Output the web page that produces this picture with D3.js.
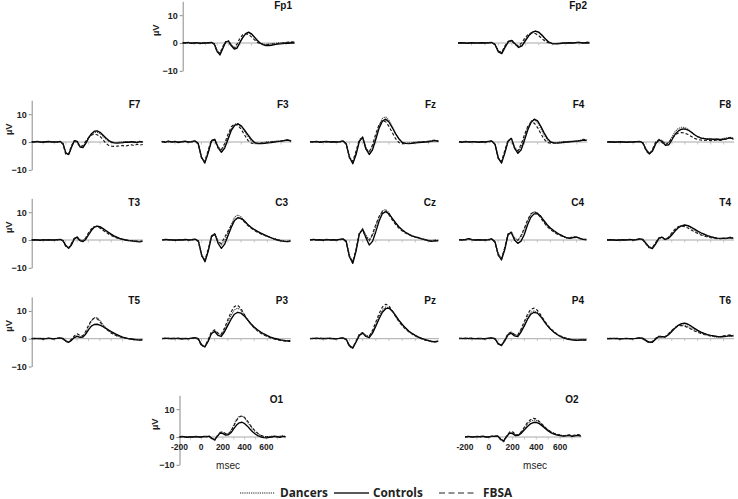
<!DOCTYPE html>
<html><head><meta charset="utf-8">
<script src="https://cdn.jsdelivr.net/npm/d3@7"></script>
<style>body{margin:0;background:#fff}svg{display:block}</style>
</head><body><svg id="c" width="738" height="499"></svg>
<script>
// time points (ms)
const times = [-200,-175,-150,-125,-100,-75,-50,-25,0,25,50,75,100,125,150,175,200,225,250,275,300,325,350,375,400,425,450,475,500,525,550,575,600,625,650,675,700,725,750,775];
const seriesNames = ["Dancers","Controls","FBSA"];
const electrodes = ["Fp1","Fp2","F7","F3","Fz","F4","F8","T3","C3","Cz","C4","T4","T5","P3","Pz","P4","T6","O1","O2"];
const yTickValues = [-10, 0, 10];
const xTickLabels = [-200, 0, 200, 400, 600];
const yLabel = "µV";
const xLabel = "msec";

// Fp1
const dancersFp1  = [0,0.1,0,0.1,-0.1,0,0.1,-0.1,0, 0,0.1,-0.2,-2.6,-3.8,-1.8,0.3,0.8,-0.6,-1.8,-1.2,0.6,2.2,3.3,3.6,3.1,2.0,0.9,0,-0.3,-0.5,-0.4,-0.3,-0.2,0,0.1,0,-0.2,0.2,0.3,0.1];
const controlsFp1 = [0.1,0,0.2,-0.1,0,0.1,-0.2,0,0, 0.1,0.2,-0.3,-3.0,-4.3,-2.0,0.4,0.7,-1.0,-2.2,-1.8,0.2,2.0,3.4,3.9,3.3,2.2,1.0,0,-0.6,-0.9,-0.9,-0.8,-0.6,-0.4,-0.3,-0.2,0,-0.1,0.1,0];
const fbsaFp1     = [0,0,0.1,0,0.1,0,0,0.1,0, 0,0.1,-0.4,-3.2,-3.6,-1.2,0.5,0.4,-1.2,-1.6,-0.3,1.8,3.0,3.3,3.0,2.2,1.2,0.3,-0.3,-0.5,-0.6,-0.5,-0.4,-0.3,-0.2,-0.1,0.1,0.2,0.3,0.4,0.3];
// Fp2
const dancersFp2  = [0.1,0,0.1,0,0,0.1,0,0,0, 0,0.1,-0.3,-2.8,-3.4,-1.2,0.6,0.9,-0.2,-1.2,-0.6,1.2,2.9,3.9,4.2,3.7,2.5,1.2,0.2,-0.2,-0.2,-0.1,0,0.1,0,0.1,0.2,0.1,0,0.2,0.1];
const controlsFp2 = [0,0.1,0,-0.1,0.1,0,0,0.1,0, 0.1,0.2,-0.6,-3.2,-3.8,-1.5,0.5,0.9,-0.4,-1.6,-1.0,0.8,2.6,3.8,4.3,3.9,2.8,1.4,0.3,-0.2,-0.3,-0.2,-0.1,0,0.1,0,0.1,0.2,0,0.1,0];
const fbsaFp2     = [0,0,0,0.1,0,0,0.1,0,0, 0.1,0.1,-0.5,-3.0,-3.3,-0.9,0.7,0.6,-0.6,-1.0,0.2,2.0,3.3,3.6,3.4,2.6,1.5,0.5,0,-0.2,-0.3,-0.2,-0.1,0,0.1,0.1,0.2,0.2,0.1,0.3,0.2];
// F7
const dancersF7  = [0,0.1,0,0.2,0,-0.1,0.1,0,0, 0.1,0.1,-0.4,-3.8,-4.6,-1.9,0.3,0.3,-1.5,-1.6,-0.2,1.6,2.8,3.4,3.5,3.0,2.1,1.1,0.3,-0.2,-0.3,-0.2,0,0.1,-0.1,0,0.2,-0.1,0.1,0.3,0];
const controlsF7 = [0.1,0,0.2,0,-0.1,0.1,0.2,0,0, 0,0.2,-0.6,-4.0,-4.5,-1.8,0.5,0.2,-1.8,-2.0,-0.5,1.5,3.0,3.9,4.0,3.5,2.5,1.5,0.6,0,-0.3,-0.4,-0.3,-0.2,0,-0.1,0.1,0,-0.2,0.1,0];
const fbsaF7     = [0,0,0.1,0,0.1,0,0,0.1,0, 0,0.1,-0.8,-4.6,-4.2,-1.2,0.4,-0.3,-1.8,-1.3,0.3,1.6,2.5,2.8,2.6,2.0,0.9,-0.4,-1.2,-1.5,-1.6,-1.5,-1.4,-1.3,-1.5,-1.2,-1.0,-1.3,-0.8,-1.1,-0.9];
// F3
const dancersF3  = [0.1,0.2,0,0.1,-0.1,0.2,0,0.1,0, 0.2,0.3,-0.4,-5.2,-7.2,-3.6,0.5,0.9,-1.6,-3.0,-1.4,1.8,4.8,6.3,6.6,5.5,3.8,2.0,0.5,-0.3,-0.4,-0.3,-0.1,0.1,0,0.2,0.4,0.2,0.6,0.9,0.5];
const controlsF3 = [0.2,-0.1,0.3,0,0.2,-0.2,0.1,0.3,0, 0.1,0.4,-0.5,-5.5,-7.6,-4.0,0.3,1.0,-2.0,-3.7,-2.2,1.0,4.2,6.0,6.5,5.8,4.3,2.6,1.0,-0.2,-0.6,-0.6,-0.5,-0.3,-0.2,0,0.2,0.3,0.5,0.7,0.3];
const fbsaF3     = [0,0.1,0.2,0,0.1,0,0.2,0,0, 0,0.3,-0.7,-5.8,-7.0,-3.0,0.8,0.6,-2.2,-2.8,-0.5,2.8,5.5,6.5,6.0,4.5,2.5,0.6,-0.4,-0.6,-0.5,-0.4,-0.3,-0.1,0.1,0.3,0.1,0.4,0.6,0.8,0.4];
// Fz
const dancersFz  = [0,0.2,0.1,0,0.1,0,0.2,0,0, 0.1,0.3,-0.5,-5.2,-7.3,-4.0,0.6,1.9,-2.0,-3.8,-1.8,2.0,6.0,8.5,9.0,7.8,5.5,3.0,1.0,-0.2,-0.4,-0.4,-0.2,0,0,0.1,0.2,0.1,0.4,0.6,0.3];
const controlsFz = [0.1,0,0.2,-0.1,0.1,0.2,0,0.1,0, 0.1,0.4,-0.6,-5.5,-7.8,-4.5,0.2,1.7,-2.5,-4.5,-2.8,1.0,5.0,7.5,8.2,7.2,5.2,3.0,1.2,-0.1,-0.5,-0.6,-0.5,-0.3,-0.2,-0.1,0,0.1,0.3,0.5,0.2];
const fbsaFz     = [0.1,0,0,0.2,0,0.1,0,0.1,0, 0,0.3,-0.8,-5.8,-7.0,-3.2,0.9,1.5,-2.6,-3.6,-1.0,3.0,6.3,7.6,7.3,5.6,3.4,1.2,-0.2,-0.6,-0.6,-0.5,-0.4,-0.2,0,0.1,0.2,0.3,0.5,0.7,0.4];
// F4
const dancersF4  = [0,0.1,0,0.1,0,0.2,0,0,0, 0.1,0.3,-0.6,-5.4,-7.2,-3.6,0.5,1.4,-1.8,-3.5,-1.8,1.6,5.2,7.6,8.0,7.0,4.8,2.5,0.8,-0.1,-0.2,-0.2,0,0.1,0.1,0.2,0.3,0.4,0.6,0.9,0.8];
const controlsF4 = [0.1,-0.1,0.2,0,0.1,0.1,-0.1,0.1,0, 0.2,0.4,-0.8,-5.8,-7.6,-4.0,0.3,1.3,-2.2,-4.1,-2.8,0.6,4.3,7.0,8.2,7.6,5.6,3.3,1.3,0,-0.3,-0.4,-0.3,-0.1,0,0.1,0.2,0.3,0.4,0.7,0.6];
const fbsaF4     = [0.1,0,0.1,0,0.2,0,0.1,0,0, 0,0.3,-0.9,-6.0,-7.0,-3.0,0.7,1.0,-2.4,-3.2,-0.8,2.6,5.6,7.0,6.8,5.2,3.0,1.0,-0.2,-0.4,-0.4,-0.3,-0.1,0,0.1,0.2,0.1,0.3,0.6,1.0,0.8];
// F8
const dancersF8  = [0.1,0,0.1,0,0,0.1,0,0,0, 0.2,0.2,-0.2,-2.6,-4.0,-2.8,-0.2,1.0,0.5,-0.5,-0.1,1.8,3.8,4.9,5.3,5.2,4.6,3.6,2.6,1.8,1.5,1.3,1.2,1.0,1.1,1.2,1.0,1.3,1.5,1.7,1.4];
const controlsF8 = [0,0.1,-0.1,0,0.1,0,-0.1,0,0, 0.1,0.2,-0.3,-2.8,-4.3,-3.2,-0.6,0.7,0.2,-1.2,-1.0,0.8,2.8,4.0,4.6,4.7,4.3,3.5,2.6,1.9,1.4,1.2,1.0,1.1,0.9,1.0,0.8,1.0,1.2,1.5,1.1];
const fbsaF8     = [0,0,0.1,0.1,0,0,0.1,0,0, 0,0.1,-0.5,-3.2,-4.4,-2.6,0.1,0.8,-0.3,-1.0,-0.2,1.4,2.6,3.2,3.4,3.2,2.7,2.0,1.3,0.9,0.7,0.6,0.7,0.5,0.6,0.8,0.6,0.9,1.0,1.6,0.9];
// T3
const dancersT3  = [0.1,0,0.1,0,0,0.1,0,0.1,0, 0,0.2,-0.1,-1.8,-2.8,-1.5,0.6,1.2,0.2,-0.2,0.6,2.2,3.7,4.7,5.0,4.6,3.9,3.2,2.5,1.8,1.2,0.8,0.4,0.2,0,-0.1,-0.2,-0.3,-0.4,-0.5,-0.3];
const controlsT3 = [0,0.1,0,-0.1,0.1,0,0.1,0,0, 0.1,0.2,-0.2,-2.0,-3.0,-1.8,0.4,1.0,-0.2,-0.6,0.2,1.8,3.4,4.6,5.0,4.8,4.2,3.5,2.8,2.1,1.5,1.0,0.6,0.3,0,-0.2,-0.3,-0.4,-0.6,-0.7,-0.5];
const fbsaT3     = [0,0,0.1,0.1,0,0,0.1,0,0, 0.1,0.1,-0.3,-2.3,-2.8,-1.2,0.6,0.8,-0.4,-0.4,0.8,2.6,4.0,4.8,4.8,4.3,3.6,2.9,2.2,1.6,1.1,0.7,0.4,0.2,0.1,-0.1,-0.2,-0.3,-0.4,-0.5,-0.4];
// C3
const dancersC3  = [0.1,0,0.2,0,0.1,0,0.1,0,0, 0.2,0.3,-0.3,-5.2,-7.4,-3.6,1.4,2.4,-0.5,-1.8,-0.2,2.6,5.6,8.2,9.0,8.3,7.0,5.7,4.6,3.7,3.0,2.4,1.8,1.3,0.9,0.5,0.2,-0.1,-0.3,-0.4,-0.2];
const controlsC3 = [0,0.2,0.1,0,-0.1,0.1,0,0.2,0, 0.1,0.3,-0.4,-5.5,-7.8,-4.0,1.2,2.2,-1.2,-3.0,-1.5,1.5,4.5,7.0,8.0,7.8,6.8,5.6,4.6,3.8,3.1,2.5,1.9,1.4,0.9,0.4,0,-0.3,-0.5,-0.6,-0.4];
const fbsaC3     = [0,0.1,0,0.1,0,0.2,0,0,0, 0,0.2,-0.6,-5.8,-7.2,-3.2,1.6,2.0,-0.8,-1.2,1.0,3.2,5.2,7.2,8.0,7.6,6.5,5.3,4.3,3.5,2.8,2.2,1.7,1.2,0.8,0.4,0.1,-0.2,-0.4,-0.6,-0.5];
// Cz
const dancersCz  = [0.1,0,0.2,0,0.1,0,0.2,0,0, 0.1,0.3,-0.3,-5.6,-8.0,-3.6,2.4,4.2,1.8,0,1.6,4.8,8.2,10.5,11.0,9.8,7.8,6.0,4.5,3.4,2.6,2.0,1.5,1.1,0.7,0.5,0.2,0,-0.2,0.1,-0.1];
const controlsCz = [0,0.2,0,0.1,-0.1,0.2,0,0.1,0, 0.2,0.4,-0.5,-6.0,-8.4,-4.0,2.2,3.8,0.8,-1.8,-0.5,3.0,6.8,9.5,10.2,9.4,7.8,6.2,4.8,3.7,2.8,2.1,1.5,1.1,0.8,0.4,0.1,-0.3,-0.5,-0.2,-0.3];
const fbsaCz     = [0,0.1,0,0.2,0,0.1,0,0.1,0, 0.1,0.3,-0.7,-6.2,-7.8,-3.2,2.6,3.6,1.0,-0.3,2.2,5.6,8.5,10.2,10.4,9.0,7.2,5.6,4.3,3.3,2.5,1.9,1.4,1.0,0.7,0.4,0.1,-0.2,-0.4,-0.3,-0.4];
// C4
const dancersC4  = [0.2,0,0.1,0.4,0,0.1,0,0.1,0, 0.2,0.3,-0.4,-4.8,-6.8,-3.0,2.0,3.0,0.8,0,1.2,3.6,6.8,9.2,10.2,9.8,8.4,6.6,5.0,3.9,3.0,2.3,1.7,1.2,0.8,0.7,1.0,1.1,0.7,0.3,0.2];
const controlsC4 = [0.1,0,0.2,0.5,0.1,0,0.1,0,0, 0.1,0.4,-0.6,-5.2,-7.2,-3.5,1.8,2.8,0,-1.2,-0.4,2.0,5.5,8.2,9.4,9.5,8.6,7.0,5.5,4.3,3.4,2.6,1.9,1.3,0.8,0.6,0.9,1.0,0.6,0.2,0.1];
const fbsaC4     = [0.1,0.1,0,0.3,0.1,0,0.1,0,0, 0,0.3,-0.8,-5.5,-6.8,-2.8,2.2,2.6,0.4,-0.2,1.6,4.2,7.2,9.4,10.2,9.6,8.0,6.3,4.8,3.8,2.9,2.2,1.6,1.1,0.8,0.8,1.2,1.0,0.5,0.3,0.2];
// T4
const dancersT4  = [0.1,0,0.1,0,0.1,0,0.1,0.1,0, 0.2,0.4,0.3,-1.0,-2.4,-2.8,-1.2,0.8,1.1,0.4,0.9,2.2,3.6,4.7,5.2,5.3,4.9,4.2,3.5,2.8,2.2,1.7,1.3,1.0,0.8,0.6,0.5,0.6,0.7,1.0,0.8];
const controlsT4 = [0,0.1,0,-0.1,0,0.1,0,0.2,0, 0.1,0.4,0.2,-1.2,-2.6,-3.1,-1.5,0.6,1.0,0.2,0.6,1.8,3.2,4.4,5.1,5.4,5.2,4.6,3.9,3.2,2.6,2.1,1.6,1.2,0.9,0.7,0.6,0.7,0.6,0.9,0.6];
const fbsaT4     = [0,0,0.1,0.1,0,0,0.1,0,0, 0.1,0.3,0.1,-1.4,-2.8,-2.7,-0.9,0.7,0.8,0.1,1.0,2.6,3.9,4.8,5.0,4.8,4.3,3.6,2.9,2.3,1.8,1.4,1.1,0.8,0.7,0.5,0.5,0.5,0.6,0.8,0.7];
// T5
const dancersT5  = [0.1,0,0.1,0,0,0.1,0,0.1,0, 0.2,0.2,0,-0.9,-1.4,-0.5,0.6,1.0,0.6,0.6,2.0,4.2,6.3,7.5,7.6,6.6,5.2,4.0,3.0,2.2,1.6,1.1,0.7,0.4,0.2,0,-0.1,-0.2,-0.3,-0.4,-0.3];
const controlsT5 = [0,0.1,0,0.1,-0.1,0,0.2,0,0, 0.1,0.3,0.1,-0.8,-1.3,-0.6,0.4,0.8,0.5,0.6,1.6,3.2,4.5,5.1,5.2,4.9,4.4,3.8,3.2,2.6,2.0,1.5,1.0,0.6,0.3,0,-0.1,-0.3,-0.4,-0.5,-0.4];
const fbsaT5     = [0,0.1,0.1,0,0.1,0,0.1,0,0, 0.1,0.2,-0.1,-1.0,-1.2,-0.2,1.0,1.8,1.2,1.0,2.6,4.8,6.6,7.4,7.2,6.1,4.8,3.7,2.8,2.0,1.5,1.0,0.7,0.4,0.2,0,-0.1,-0.2,-0.3,-0.5,-0.4];
// P3
const dancersP3  = [0.1,0,0.2,0,0.1,0,0.1,0,0, 0.1,0.3,0.1,-2.0,-2.8,-0.8,2.0,3.0,1.8,1.4,3.2,5.8,8.4,10.4,11.0,10.2,8.6,6.8,5.2,4.0,3.0,2.2,1.5,0.9,0.4,0,-0.3,-0.5,-0.7,-0.9,-0.8];
const controlsP3 = [0,0.2,0,0.1,0,0.2,-0.1,0.1,0, 0.2,0.4,0,-2.2,-3.0,-1.0,1.8,2.6,1.2,0.8,2.5,4.8,7.0,8.8,9.5,9.2,8.2,6.8,5.4,4.2,3.2,2.4,1.7,1.1,0.6,0.2,-0.1,-0.4,-0.6,-0.8,-0.7];
const fbsaP3     = [0,0.1,0.1,0,0.2,0,0.1,0,0, 0.1,0.3,-0.2,-2.6,-2.8,-0.4,2.4,3.2,2.0,1.6,3.8,6.8,9.6,11.6,12.0,10.8,8.8,6.8,5.2,3.9,2.8,2.0,1.3,0.8,0.3,-0.1,-0.4,-0.6,-0.8,-1.0,-1.0];
// Pz
const dancersPz  = [0.1,0,0.1,0.1,0,0.2,0,0.1,0, 0.2,0.2,-0.1,-2.4,-3.2,-1.0,1.4,2.2,1.2,0.8,2.5,5.2,8.0,10.2,11.4,11.2,9.8,8.0,6.3,4.8,3.6,2.6,1.8,1.1,0.5,0,-0.4,-0.7,-0.9,-1.0,-0.8];
const controlsPz = [0,0.1,0.2,0,0.1,0,0.2,0,0, 0.1,0.3,-0.2,-2.6,-3.4,-1.2,1.2,2.0,0.8,0.4,2.0,4.5,7.2,9.5,10.8,11.0,10.0,8.4,6.7,5.2,3.9,2.8,1.9,1.2,0.6,0.1,-0.3,-0.7,-1.0,-1.1,-0.9];
const fbsaPz     = [0,0.1,0,0.2,0,0.1,0,0,0, 0.1,0.2,-0.4,-2.9,-3.3,-0.8,1.6,2.2,1.0,0.9,3.0,6.0,9.0,11.4,12.4,11.8,10.0,8.0,6.2,4.7,3.5,2.5,1.7,1.0,0.4,-0.1,-0.5,-0.8,-1.1,-1.2,-1.0];
// P4
const dancersP4  = [0,0.1,0,0.2,0,0.1,0,0.1,0, 0.1,0.3,0.1,-1.6,-2.3,-0.5,1.6,2.3,1.4,1.2,3.0,5.4,7.8,9.5,10.0,9.4,8.0,6.3,4.7,3.4,2.4,1.6,1.0,0.5,0.1,-0.2,-0.3,-0.4,-0.3,-0.2,-0.3];
const controlsP4 = [0.1,0,0.2,0,0.1,0,0.1,0,0, 0.2,0.3,0,-1.8,-2.5,-0.8,1.4,2.0,1.0,0.8,2.4,4.6,7.0,8.8,9.5,9.2,8.0,6.4,4.8,3.5,2.4,1.5,0.8,0.3,-0.1,-0.3,-0.5,-0.6,-0.5,-0.4,-0.5];
const fbsaP4     = [0.1,0.1,0,0.1,0.2,0,0,0.1,0, 0,0.2,-0.1,-2.0,-2.4,-0.4,1.8,2.4,1.5,1.4,3.4,6.2,8.8,10.6,11.0,10.2,8.6,6.8,5.1,3.7,2.6,1.7,1.0,0.5,0.1,-0.2,-0.4,-0.5,-0.5,-0.4,-0.4];
// T6
const dancersT6  = [0.1,0,0.1,0,0,0.1,0,0.1,0, 0.2,0.2,0.1,-0.8,-1.5,-1.2,0,0.9,0.8,0.7,1.6,2.8,4.0,4.8,5.0,4.9,4.4,3.8,3.2,2.6,2.1,1.7,1.3,1.0,0.8,0.6,0.6,0.7,0.8,0.9,0.8];
const controlsT6 = [0,0.1,0,0.1,-0.1,0,0.1,0,0, 0.1,0.3,0.2,-0.6,-1.2,-1.3,-0.2,0.8,0.7,0.6,1.4,2.6,3.8,4.8,5.4,5.6,5.2,4.5,3.7,3.0,2.4,1.9,1.5,1.2,1.0,0.8,0.7,0.8,0.9,1.1,1.0];
const fbsaT6     = [0,0,0.1,0.1,0,0,0.1,0,0, 0.1,0.2,0,-0.9,-1.4,-1.0,0.2,0.8,0.6,0.8,1.8,3.0,4.0,4.6,4.7,4.5,4.0,3.4,2.8,2.3,1.9,1.5,1.2,1.0,0.8,0.7,0.8,1.0,1.2,1.4,1.2];
// O1
const dancersO1  = [0.1,0,0.1,0,0,0.1,0,0.2,0, 0.1,0.2,0.2,-0.4,-0.8,0.6,1.8,1.6,1.0,1.2,2.4,4.4,6.4,7.4,7.6,6.8,5.4,4.0,2.8,1.8,1.0,0.5,0.2,0.1,0.2,0.3,0.4,0.2,0.3,0.4,0.2];
const controlsO1 = [0,0.2,0,-0.1,0.1,0,0.2,0,0, 0.2,0.1,0.3,-0.6,-1.0,0.4,1.4,1.2,0.7,0.8,1.6,3.0,4.3,5.1,5.3,4.8,3.9,2.8,1.8,1.0,0.4,0,-0.2,-0.3,-0.1,0,0.2,0.1,-0.1,0.2,0.1];
const fbsaO1     = [0,0.1,0.1,0,0.2,0,0.1,0,0, 0.1,0.2,0.1,-0.7,-1.1,0.3,1.6,1.9,1.2,1.0,2.2,4.0,6.0,7.2,7.6,7.0,5.8,4.4,3.1,2.0,1.2,0.6,0.3,0.1,0,0.1,0.2,0,0.1,0.3,0.1];
// O2
const dancersO2  = [0.1,0,0.2,0.1,0,0.2,0,0.1,0, 0.2,0.3,0.3,-0.6,-1.3,0.4,1.7,1.5,0.8,0.9,1.8,3.2,4.6,5.6,6.1,6.0,5.3,4.4,3.4,2.5,1.8,1.3,0.9,0.7,0.5,0.6,0.7,0.4,0.6,0.8,0.5];
const controlsO2 = [0,0.2,0.1,0,0.2,0.1,0.3,0,0, 0.3,0.2,0.4,-0.8,-1.5,0.2,1.4,1.2,0.5,0.6,1.4,2.6,3.8,4.7,5.2,5.3,4.8,4.0,3.1,2.2,1.5,1.0,0.7,0.5,0.3,0.4,0.6,0.2,0.4,0.6,0.3];
const fbsaO2     = [0,0.1,0,0.2,0.1,0,0.2,0.1,0, 0.2,0.3,0.2,-1.0,-1.7,0.1,1.8,1.9,0.9,0.7,2.0,3.6,5.2,6.2,6.7,6.5,5.6,4.5,3.4,2.5,1.8,1.3,1.0,0.7,0.5,0.5,0.8,0.5,0.7,0.9,0.6];

const dataByElectrode = {
  Fp1:[dancersFp1,controlsFp1,fbsaFp1], Fp2:[dancersFp2,controlsFp2,fbsaFp2],
  F7:[dancersF7,controlsF7,fbsaF7], F3:[dancersF3,controlsF3,fbsaF3], Fz:[dancersFz,controlsFz,fbsaFz],
  F4:[dancersF4,controlsF4,fbsaF4], F8:[dancersF8,controlsF8,fbsaF8],
  T3:[dancersT3,controlsT3,fbsaT3], C3:[dancersC3,controlsC3,fbsaC3], Cz:[dancersCz,controlsCz,fbsaCz],
  C4:[dancersC4,controlsC4,fbsaC4], T4:[dancersT4,controlsT4,fbsaT4],
  T5:[dancersT5,controlsT5,fbsaT5], P3:[dancersP3,controlsP3,fbsaP3], Pz:[dancersPz,controlsPz,fbsaPz],
  P4:[dancersP4,controlsP4,fbsaP4], T6:[dancersT6,controlsT6,fbsaT6],
  O1:[dancersO1,controlsO1,fbsaO1], O2:[dancersO2,controlsO2,fbsaO2]
};

// layout (pixel geometry of each panel)
const layout = {
  Fp1:{x0:182.7,x1:295,zy:43,yAxis:true,ylabOff:24}, Fp2:{x0:458,x1:590,zy:43},
  F7:{x0:31.7,x1:143.3,zy:142,yAxis:true,ylabOff:20}, F3:{x0:161.7,x1:291.7,zy:142}, Fz:{x0:310,x1:439,zy:142}, F4:{x0:459,x1:587.3,zy:142}, F8:{x0:607.3,x1:734,zy:142},
  T3:{x0:31.7,x1:143,zy:240,yAxis:true,ylabOff:20}, C3:{x0:162.3,x1:291,zy:240}, Cz:{x0:310,x1:439,zy:240}, C4:{x0:459,x1:587,zy:240}, T4:{x0:607,x1:734,zy:240},
  T5:{x0:31.7,x1:143,zy:338.7,yAxis:true,ylabOff:20}, P3:{x0:162,x1:291,zy:338.7}, Pz:{x0:310,x1:439,zy:338.7}, P4:{x0:459,x1:587,zy:338.7}, T6:{x0:607,x1:734,zy:338.7},
  O1:{x0:179.5,x1:286,zy:437,yAxis:true,ylabOff:22,xTicks:true,msecX:228}, O2:{x0:465,x1:581.5,zy:437,xTicks:true,msecX:535}
};
const PX_PER_10UV = 27.8;
const styles = [
  {stroke:"#444", width:1.1, dash:"1.2,0.9"},
  {stroke:"#000", width:1.35, dash:null},
  {stroke:"#1a1a1a", width:1.15, dash:"3,2"}
];
const panelFont = "Liberation Sans, Arial, sans-serif";

const svg = d3.select("#c");

electrodes.forEach(name => {
  const L = layout[name];
  const x = d3.scaleLinear().domain([times[0], 780]).range([L.x0, L.x1]);
  const y = d3.scaleLinear().domain([-10, 15]).range([L.zy + PX_PER_10UV, L.zy - 1.5*PX_PER_10UV]);
  const g = svg.append("g");

  g.append("line").attr("x1", x(times[0])).attr("x2", x(780))
    .attr("y1", y(0)).attr("y2", y(0)).attr("stroke", "#a8a8a8").attr("stroke-width", 1);
  const minor = d3.range(-100, 780, 100);
  g.selectAll(".mt").data(minor).join("line")
    .attr("x1", d => x(d)).attr("x2", d => x(d))
    .attr("y1", y(0)).attr("y2", y(0) + 2.5)
    .attr("stroke", "#b8b8b8").attr("stroke-width", 0.8);

  if (L.yAxis) {
    const ax = g.append("g").attr("transform", `translate(${L.x0},0)`)
      .call(d3.axisLeft(y).tickValues(yTickValues).tickSize(3).tickSizeOuter(0).tickPadding(2).tickFormat(d3.format("d")));
    ax.select(".domain").attr("stroke", "#8a8a8a");
    ax.selectAll(".tick line").attr("stroke", "#8a8a8a");
    ax.selectAll("text").attr("font-family", panelFont).attr("font-size", 9)
      .attr("font-weight", "bold").attr("fill", "#222");
    g.append("text").attr("transform", `translate(${L.x0 - L.ylabOff},${y(4.6)}) rotate(-90)`)
      .attr("text-anchor", "middle").attr("font-family", panelFont).attr("font-size", 9.5)
      .attr("font-weight", "bold").attr("fill", "#222").text(yLabel);
  }
  if (L.xTicks) {
    g.selectAll(".xt").data(xTickLabels).join("text")
      .attr("x", d => x(d)).attr("y", y(0) + 13)
      .attr("text-anchor", "middle").attr("font-family", panelFont).attr("font-size", 8.5)
      .attr("font-weight", "bold").attr("fill", "#222").text(d => d);
    g.append("text").attr("x", L.msecX).attr("y", y(0) + 32)
      .attr("text-anchor", "middle").attr("font-family", panelFont).attr("font-size", 10)
      .attr("fill", "#222").text(xLabel);
  }

  const line = d3.line().x((d, i) => x(times[i])).y(d => y(d));
  dataByElectrode[name].forEach((vals, si) => {
    const s = styles[si];
    g.append("path").datum(vals).attr("d", line).attr("fill", "none")
      .attr("stroke", s.stroke).attr("stroke-width", s.width)
      .attr("stroke-dasharray", s.dash).attr("stroke-linejoin", "round");
  });

  g.append("text").attr("x", L.x1 - 3).attr("y", L.zy - 34.5)
    .attr("text-anchor", "end").attr("font-family", panelFont).attr("font-size", 10)
    .attr("font-weight", "bold").attr("fill", "#111").text(name);
});

// legend
const legendItems = [
  {lx0:240, lx1:275, tx:280},
  {lx0:334, lx1:369, tx:373},
  {lx0:439, lx1:474, tx:483}
];
const legendDash = ["1.2,1", null, "6,3.5"];
const ly = 493;
seriesNames.forEach((nm, i) => {
  const it = legendItems[i];
  svg.append("line").attr("x1", it.lx0).attr("x2", it.lx1).attr("y1", ly).attr("y2", ly)
    .attr("stroke", "#222").attr("stroke-width", i === 1 ? 1.3 : 1.1)
    .attr("stroke-dasharray", legendDash[i]);
  svg.append("text").attr("x", it.tx).attr("y", ly + 4.2)
    .attr("font-family", "Open Sans, Liberation Sans, sans-serif").attr("font-size", 11.8)
    .attr("font-weight", "bold").attr("fill", "#222").text(nm);
});
</script></body></html>
